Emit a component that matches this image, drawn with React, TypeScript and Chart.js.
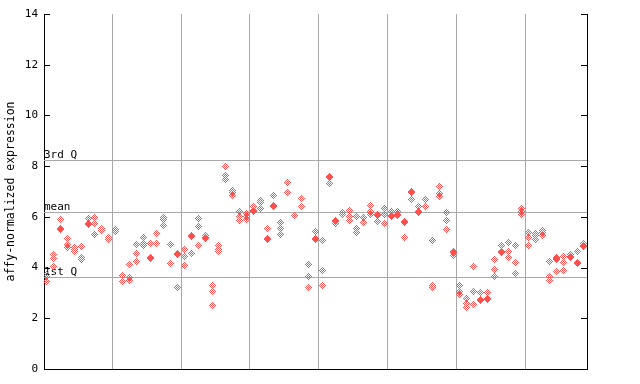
import React, { useEffect, useRef } from "react";
import { Chart, registerables } from "chart.js";

Chart.register(...registerables);

const yTicks = [0, 2, 4, 6, 8, 10, 12, 14];
const groupBoundaries = [9.5, 19.5, 29.5, 39.5, 49.5, 59.5, 69.5];
const quartileLabels = ["3rd Q", "mean", "1st Q"];
const quartileValues = [8.23, 6.21, 3.63];
const yAxisTitle = "affy-normalized expression";

// one entry per sample (column), replicate values
const sampleValues: number[][] = [
  [3.71, 3.63, 3.47],
  [4.5, 4.34, 4.06],
  [5.9, 5.53, 5.49],
  [5.15, 4.92, 4.8],
  [4.8, 4.72, 4.64],
  [4.84, 4.4, 4.33],
  [5.94, 5.72, 5.68],
  [5.98, 5.74, 5.31],
  [5.55, 5.47],
  [5.19, 5.12, 5.09],
  [5.51, 5.43],
  [3.69, 3.46],
  [4.13, 3.6, 3.5],
  [4.92, 4.56, 4.25],
  [5.19, 4.96, 4.88],
  [4.96, 4.38, 4.35],
  [5.35, 4.96],
  [5.98, 5.9, 5.67],
  [4.92, 4.17],
  [4.57, 4.53, 3.23],
  [4.72, 4.44, 4.09],
  [5.25, 5.22, 4.56],
  [5.94, 5.62, 4.88],
  [5.27, 5.2, 5.15],
  [3.3, 3.06, 2.51],
  [4.88, 4.72, 4.64],
  [7.99, 7.63, 7.48],
  [7.05, 6.97, 6.85],
  [6.22, 6.02, 5.86],
  [6.14, 6.02, 5.9],
  [6.42, 6.26, 6.23],
  [6.65, 6.57, 6.34],
  [5.55, 5.15, 5.11],
  [6.85, 6.45, 6.41],
  [5.78, 5.55, 5.31],
  [7.36, 6.97],
  [6.07, 6.04],
  [6.73, 6.42],
  [4.13, 3.66, 3.22],
  [5.43, 5.15, 5.11],
  [5.07, 3.89, 3.3],
  [7.61, 7.57, 7.32],
  [5.86, 5.8, 5.74],
  [6.18, 6.1],
  [6.26, 6.02, 5.86],
  [6.02, 5.55, 5.39],
  [5.98, 5.78],
  [6.45, 6.2, 6.1],
  [6.08, 6.04, 5.82],
  [6.34, 6.1, 5.74],
  [6.22, 6.04, 6.0],
  [6.22, 6.08, 6.04],
  [5.8, 5.76, 5.19],
  [7.01, 6.97, 6.69],
  [6.42, 6.2, 6.16],
  [6.69, 6.42],
  [5.07, 3.3, 3.22],
  [7.2, 6.93, 6.81],
  [6.18, 5.86, 5.51],
  [4.62, 4.58, 4.48],
  [3.3, 3.06, 2.95],
  [2.79, 2.59, 2.43],
  [4.05, 3.06, 2.55],
  [3.02, 2.73, 2.69],
  [3.02, 2.77, 2.73],
  [4.33, 3.93, 3.66],
  [4.88, 4.62, 4.58],
  [5.0, 4.64, 4.4],
  [4.88, 4.21, 3.77],
  [6.34, 6.22, 6.1],
  [5.39, 5.19, 4.88],
  [5.35, 5.25, 5.11],
  [5.47, 5.38, 5.27],
  [4.25, 3.66, 3.5],
  [4.4, 4.35, 4.31, 3.85],
  [4.44, 4.21, 3.89],
  [4.52, 4.42, 4.38],
  [4.64, 4.19, 4.15],
  [4.96, 4.86, 4.82],
];

const POINT_COLOR = "rgb(255,80,80)";
const GRID_COLOR = "#a9a9a9";
const FONT_FAMILY = "'DejaVu Sans Mono', monospace";

function makeDiamond(color: string): HTMLCanvasElement {
  const c = document.createElement("canvas");
  c.width = 7;
  c.height = 7;
  const g = c.getContext("2d")!;
  g.fillStyle = color;
  for (let dy = -3; dy <= 3; dy++) {
    for (let dx = -3; dx <= 3; dx++) {
      if (Math.abs(dx) + Math.abs(dy) <= 3 && (dx + dy) & 1) {
        g.fillRect(dx + 3, dy + 3, 1, 1);
      }
    }
  }
  return c;
}

const decorPlugin = {
  id: "decor",
  beforeDatasetsDraw(chart: any) {
    const { ctx, chartArea } = chart;
    const y = chart.scales.y;
    ctx.save();
    // quartile reference lines
    ctx.strokeStyle = GRID_COLOR;
    ctx.lineWidth = 1;
    quartileValues.forEach((v) => {
      const py = Math.round(y.getPixelForValue(v)) + 0.5;
      ctx.beginPath();
      ctx.moveTo(chartArea.left, py);
      ctx.lineTo(chartArea.right, py);
      ctx.stroke();
    });
    // inward tick marks on both sides
    ctx.strokeStyle = "#000";
    y.ticks.forEach((t: any) => {
      const py = Math.round(y.getPixelForValue(t.value)) + 0.5;
      ctx.beginPath();
      ctx.moveTo(chartArea.left, py);
      ctx.lineTo(chartArea.left + 6, py);
      ctx.moveTo(chartArea.right, py);
      ctx.lineTo(chartArea.right - 6, py);
      ctx.stroke();
    });
    // quartile labels
    ctx.fillStyle = "#000";
    ctx.font = `11px ${FONT_FAMILY}`;
    ctx.textAlign = "left";
    ctx.textBaseline = "bottom";
    quartileValues.forEach((v, i) => {
      const py = Math.round(y.getPixelForValue(v));
      ctx.fillText(quartileLabels[i], chartArea.left, py + 1);
    });
    ctx.restore();
    ctx.imageSmoothingEnabled = false;
  },
};

export default function App() {
  const ref = useRef<HTMLCanvasElement | null>(null);

  useEffect(() => {
    if (!ref.current) return;
    const diamond = makeDiamond(POINT_COLOR);
    const points: { x: number; y: number }[] = [];
    sampleValues.forEach((vals, i) => {
      vals.forEach((v) => points.push({ x: i, y: v }));
    });

    const chart = new Chart(ref.current, {
      type: "scatter",
      data: {
        datasets: [
          {
            data: points,
            pointStyle: diamond as any,
            pointRadius: 3,
            pointBackgroundColor: POINT_COLOR,
            pointBorderColor: POINT_COLOR,
          },
        ],
      },
      options: {
        animation: false,
        responsive: false,
        devicePixelRatio: 1,
        layout: { padding: { top: 14, left: 0, right: 0, bottom: 0 } },
        plugins: {
          legend: { display: false },
          tooltip: { enabled: false },
        },
        scales: {
          x: {
            type: "linear",
            position: "bottom",
            min: -0.39,
            max: 78.44,
            afterBuildTicks: (s: any) => {
              s.ticks = groupBoundaries.map((v) => ({ value: v }));
            },
            afterFit: (s: any) => {
              s.height = 15;
            },
            ticks: { display: false },
            grid: { color: GRID_COLOR, drawTicks: false, lineWidth: 1 },
            border: { display: true, color: "#000", width: 1 },
          },
          y: {
            type: "linear",
            position: "left",
            min: 0,
            max: 14,
            afterBuildTicks: (s: any) => {
              s.ticks = yTicks.map((v) => ({ value: v }));
            },
            afterFit: (s: any) => {
              s.width = 44;
            },
            ticks: {
              color: "#000",
              padding: 6,
              font: { family: FONT_FAMILY, size: 11 },
              callback: (v: any) => String(v),
            },
            grid: { drawOnChartArea: false, drawTicks: false },
            border: { display: true, color: "#000", width: 1 },
            title: {
              display: true,
              text: yAxisTitle,
              color: "#000",
              font: { family: FONT_FAMILY, size: 11.5 },
              padding: { top: 4, bottom: 0 },
            },
          },
          y2: {
            type: "linear",
            position: "right",
            min: 0,
            max: 14,
            afterBuildTicks: (s: any) => {
              s.ticks = yTicks.map((v) => ({ value: v }));
            },
            afterFit: (s: any) => {
              s.width = 53;
            },
            ticks: { display: false },
            grid: { drawOnChartArea: false, drawTicks: false },
            border: { display: true, color: "#000", width: 1 },
          },
        },
      },
      plugins: [decorPlugin],
    });
    return () => chart.destroy();
  }, []);

  return (
    <div style={{ position: "absolute", left: 0, top: 0, width: 640, height: 384 }}>
      <canvas ref={ref} width={640} height={384} />
    </div>
  );
}
